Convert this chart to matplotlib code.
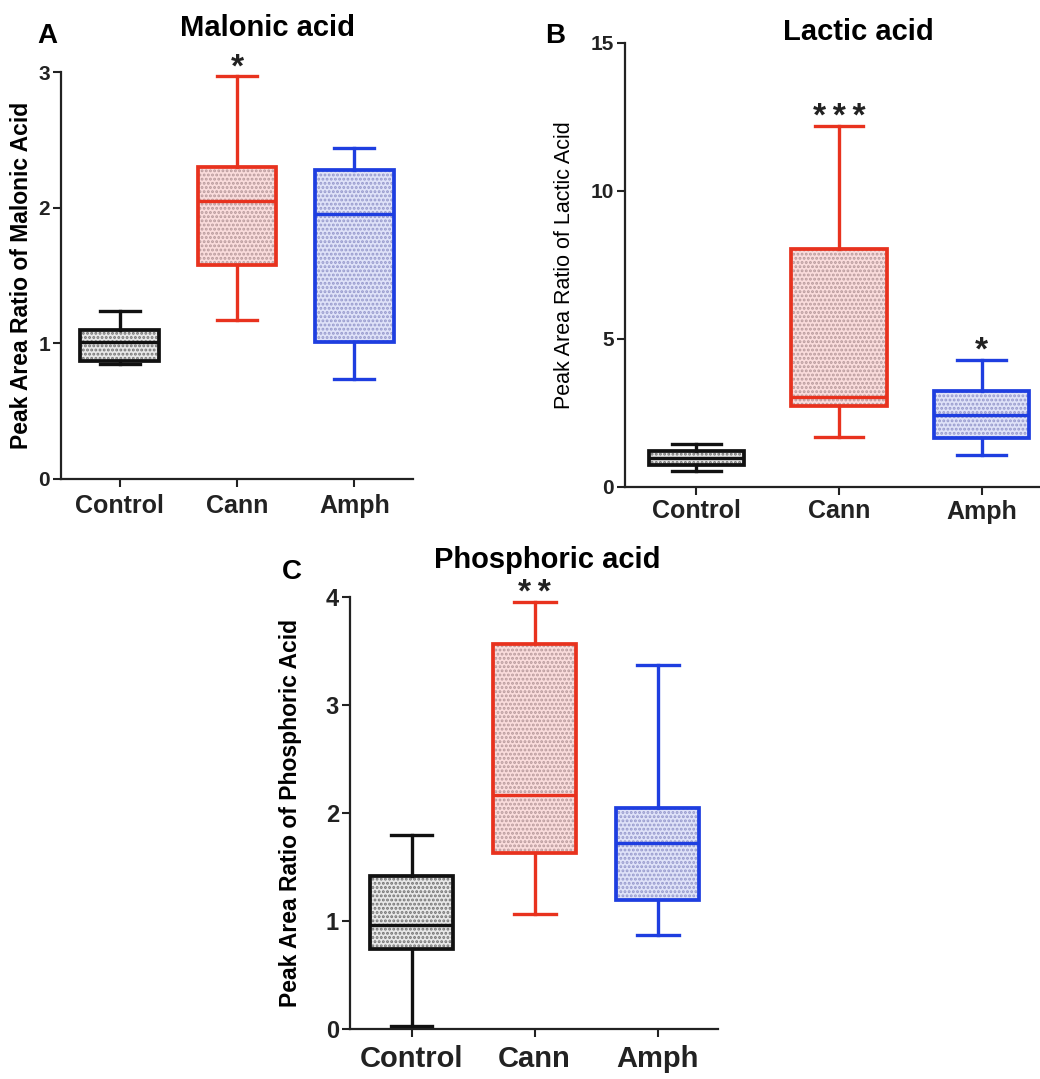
import matplotlib
matplotlib.use("Agg")
import matplotlib.pyplot as plt
from matplotlib.patches import PathPatch

groups = ["Control", "Cann", "Amph"]

# box stats per group: whisker low, Q1, median, Q3, whisker high
malonic_low = [0.85, 1.17, 0.74]
malonic_q1 = [0.87, 1.58, 1.01]
malonic_med = [1.01, 2.05, 1.95]
malonic_q3 = [1.10, 2.30, 2.28]
malonic_high = [1.24, 2.97, 2.44]
malonic_sig = ["", "*", ""]

lactic_low = [0.53, 1.68, 1.07]
lactic_q1 = [0.74, 2.75, 1.67]
lactic_med = [0.98, 3.03, 2.44]
lactic_q3 = [1.23, 8.05, 3.25]
lactic_high = [1.45, 12.2, 4.29]
lactic_sig = ["", "***", "*"]

phos_low = [0.03, 1.07, 0.87]
phos_q1 = [0.74, 1.63, 1.20]
phos_med = [0.96, 2.17, 1.72]
phos_q3 = [1.42, 3.56, 2.05]
phos_high = [1.80, 3.95, 3.37]
phos_sig = ["", "**", ""]

line_cols = ["#111111", "#e8321e", "#1e3ee0"]
face_cols = ["#e8e8e8", "#fadcdc", "#dfe2f8"]
hatch_cols = ["#737373", "#b89a9c", "#9699cc"]

W, H = 1040, 1079
plt.rcParams["font.family"] = ["Liberation Sans", "DejaVu Sans"]
plt.rcParams["hatch.linewidth"] = 1.4

fig = plt.figure(figsize=(W / 100, H / 100), dpi=100)


def draw_panel(ax, low, q1, med, q3, high, sig, ymax, yticks, xlim,
               xfs, yfs, xpad, ylabel, ylab_x, label_font):
    stats = []
    for i in range(len(groups)):
        stats.append(dict(whislo=low[i], q1=q1[i], med=med[i], q3=q3[i],
                          whishi=high[i], fliers=[]))
    bp = ax.bxp(stats, positions=range(len(groups)), widths=0.67,
                capwidths=0.34, patch_artist=True, showfliers=False)
    for i, box in enumerate(bp["boxes"]):
        box.set_facecolor(face_cols[i])
        box.set_edgecolor(hatch_cols[i])
        box.set_hatch("....")
        box.set_linewidth(0)
        outline = PathPatch(box.get_path(), fill=False, edgecolor=line_cols[i],
                            lw=2.7, zorder=box.get_zorder() + 0.1)
        ax.add_patch(outline)
        bp["medians"][i].set(color=line_cols[i], lw=2.4)
        for ln in bp["whiskers"][2 * i:2 * i + 2] + bp["caps"][2 * i:2 * i + 2]:
            ln.set(color=line_cols[i], lw=2.4)
        if sig[i]:
            # asterisks with a little spacing, as in the original figure
            ax.annotate("\u2009".join(sig[i]), xy=(i, high[i]), xytext=(0, 0),
                        textcoords="offset points", ha="center", va="baseline",
                        fontsize=24, fontweight="bold", color="#222222",
                        annotation_clip=False,
                        family=["Liberation Sans", "DejaVu Sans"])
    ax.set_xlim(*xlim)
    ax.set_ylim(0, ymax)
    ax.set_yticks(yticks)
    ax.set_xticks(range(len(groups)))
    ax.set_xticklabels(groups, fontsize=xfs, fontweight="bold")
    for t in ax.get_yticklabels():
        t.set_fontsize(yfs)
        t.set_fontweight("bold")
    for s in ["top", "right"]:
        ax.spines[s].set_visible(False)
    for s in ["left", "bottom"]:
        ax.spines[s].set_linewidth(1.6)
        ax.spines[s].set_color("#222222")
    ax.tick_params(width=1.5, length=6, direction="out", colors="#222222")
    ax.tick_params(axis="x", pad=xpad)
    ax.tick_params(axis="y", pad=2)
    ax.set_ylabel(ylabel, **label_font)
    ax.yaxis.set_label_coords(ylab_x, 0.5)


def px_axes(l, r, t, b):
    return fig.add_axes([l / W, 1 - b / H, (r - l) / W, (b - t) / H])


axA = px_axes(61, 413, 72, 479)
draw_panel(axA, malonic_low, malonic_q1, malonic_med, malonic_q3, malonic_high,
           malonic_sig, 3, [0, 1, 2, 3], (-0.5, 2.5), 18, 15, 5,
           "Peak Area Ratio of Malonic Acid", -0.08,
           dict(fontsize=16.5, fontweight="bold"))

axB = px_axes(625, 1040, 42.7, 487)
draw_panel(axB, lactic_low, lactic_q1, lactic_med, lactic_q3, lactic_high,
           lactic_sig, 15, [0, 5, 10, 15], (-0.5, 2.41), 18, 15, 3,
           "Peak Area Ratio of Lactic Acid", -0.12,
           dict(fontsize=15.5, family=["Liberation Sans Narrow", "Liberation Sans"]))

axC = px_axes(350, 718, 596.7, 1029.3)
draw_panel(axC, phos_low, phos_q1, phos_med, phos_q3, phos_high,
           phos_sig, 4, [0, 1, 2, 3, 4], (-0.5, 2.49), 21, 17, 5,
           "Peak Area Ratio of Phosphoric Acid", -0.13,
           dict(fontsize=16.5, fontweight="bold"))

fig.text(268 / W, 1 - 28 / H, "Malonic acid", ha="center", va="center",
         fontsize=21, fontweight="bold")
fig.text(858 / W, 1 - 32 / H, "Lactic acid", ha="center", va="center",
         fontsize=21, fontweight="bold")
fig.text(547 / W, 1 - 560 / H, "Phosphoric acid", ha="center", va="center",
         fontsize=21, fontweight="bold")
fig.text(47 / W, 1 - 36 / H, "A", ha="center", va="center",
         fontsize=20, fontweight="bold")
fig.text(555 / W, 1 - 36 / H, "B", ha="center", va="center",
         fontsize=20, fontweight="bold")
fig.text(292 / W, 1 - 572 / H, "C", ha="center", va="center",
         fontsize=20, fontweight="bold")

fig.savefig("out.png", dpi=100)
